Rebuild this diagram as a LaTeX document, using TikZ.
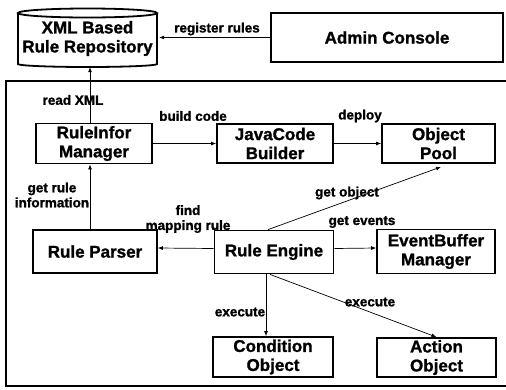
\documentclass[tikz,border=0pt]{standalone}
\usepackage{fontspec}
\setmainfont{Liberation Sans}[BoldFeatures={FakeBold=1.2}]
\usetikzlibrary{arrows.meta}
\begin{document}
\begin{tikzpicture}[x=1pt,y=-1pt,
  box/.style={draw, line width=1.8pt, align=center, inner sep=0pt,
    font=\bfseries\fontsize{17}{19}\selectfont},
  lbl/.style={align=center, inner sep=0pt, font=\bfseries\fontsize{13.5}{15}\selectfont},
  arr/.style={-{Latex[length=5pt,width=4pt]}, line width=0.7pt},
  thick line/.style={line width=1.8pt}]
\useasboundingbox (0,0) rectangle (506,389);
% outer frame (right side open)
\draw[thick line] (506,81) -- (6,81) -- (6,386) -- (506,386);
% repository cylinder
\node[align=center, inner sep=0pt, minimum width=139pt, minimum height=57pt,
  font=\bfseries\fontsize{17}{19}\selectfont] (repo) at (87.5,38.5) {XML Based\\Rule Repository};
\draw[thick line] (87.5,13) ellipse [x radius=69.5pt, y radius=4.5pt];
\draw[thick line] (18,13) -- (18,64) arc[start angle=180, end angle=360, x radius=69.5pt, y radius=3pt] -- (157,13);
% boxes
\node[box, minimum width=232pt, minimum height=49pt] (admin) at (387,37.5) {Admin Console};
\node[box, minimum width=116pt, minimum height=40pt] (rim) at (94,143.5) {RuleInfor\\Manager};
\node[box, minimum width=116pt, minimum height=39pt] (jcb) at (275,143.5) {JavaCode\\Builder};
\node[box, minimum width=113pt, minimum height=39pt] (pool) at (438.5,143.5) {Object\\Pool};
\node[box, minimum width=124pt, minimum height=43pt] (parser) at (95,251.5) {Rule Parser};
\node[box, minimum width=119pt, minimum height=43pt] (engine) at (274,252) {Rule Engine};
\node[box, minimum width=118pt, minimum height=44pt] (evb) at (436,251.5) {EventBuffer\\Manager};
\node[box, minimum width=120pt, minimum height=40pt] (cond) at (273,357) {Condition\\Object};
\node[box, minimum width=119pt, minimum height=39pt] (action) at (436.5,357.5) {Action\\Object};
\coordinate (xcol) at (90,0);
% connectors
\draw[arr] (admin.west) -- ([xshift=2pt]admin.west -| repo.east);
\draw[arr] (rim.north -| xcol) -- (repo.south -| xcol);
\draw[arr] (rim.east) -- (jcb.west);
\draw[arr] (jcb.east) -- (pool.west);
\draw[arr] (parser.north -| xcol) -- (rim.south -| xcol);
\draw[arr] ([yshift=3.5pt]engine.west) -- ([yshift=3.5pt]parser.east);
\draw[arr] ([yshift=3.5pt]engine.east) -- ([yshift=3.5pt]evb.west);
\draw[arr] ([xshift=-6pt]engine.north) -- ([xshift=2.5pt,yshift=-3pt]pool.south);
\draw[arr] ([xshift=-8pt]engine.south) -- ([xshift=-7pt]cond.north);
\draw[arr] ([xshift=-4pt]engine.south) -- (action.north);
% labels
\node[lbl] (l1) at (217,29) {register rules};
\node[lbl] (l2) at (73,100) {read XML};
\node[lbl] (l3) at (193,116) {build code};
\node[lbl] (l4) at (360,116) {deploy};
\node[lbl] (l5) at (52,195) {get rule\\information};
\node[lbl] (l6) at (188,219) {find\\mapping rule};
\node[lbl] (l7) at (347,193) {get object};
\node[lbl] (l8) at (362,222) {get events};
\node[lbl] (l9) at (240,312) {execute};
\node[lbl] (l10) at (370,302) {execute};
\end{tikzpicture}
\end{document}
